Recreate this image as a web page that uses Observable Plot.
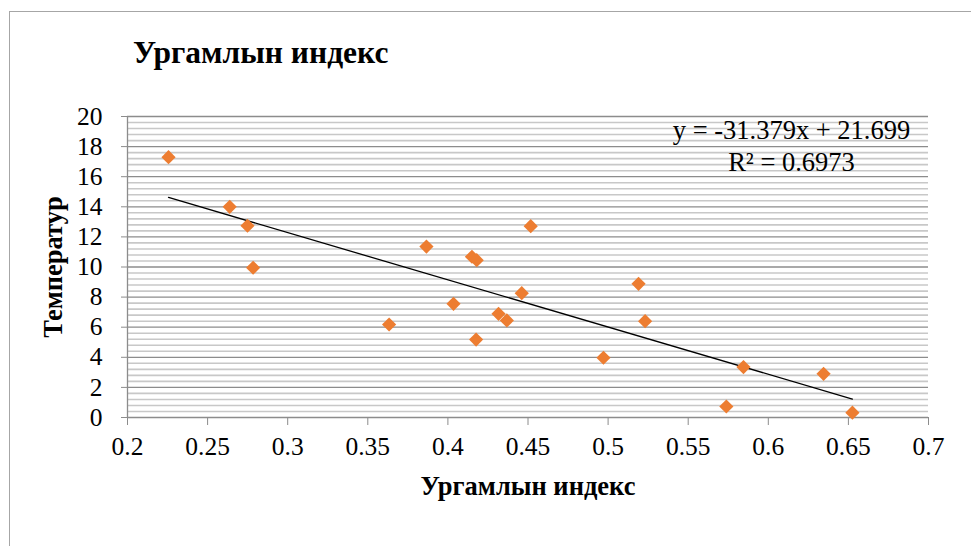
<!DOCTYPE html>
<html>
<head>
<meta charset="utf-8">
<script src="https://cdn.jsdelivr.net/npm/d3@7"></script>
<script src="https://cdn.jsdelivr.net/npm/@observablehq/plot@0.6"></script>
<style>
  html, body { margin: 0; padding: 0; background: #fff; overflow: hidden; }
  #wrap { position: relative; width: 971px; height: 546px; overflow: hidden; font-family: "Liberation Serif", "Times New Roman", serif; }
  #frame { position: absolute; left: 9px; top: 11px; width: 1100px; height: 700px; border: 1.5px solid #a6a6a6; box-sizing: border-box; }
  #title { position: absolute; left: 133px; top: 37px; font-size: 31.5px; line-height: 1; font-weight: bold; color: #000; white-space: nowrap; }
  #chart { position: absolute; left: 0; top: 80px; }
  #chart g[aria-label="x-axis tick"], #chart g[aria-label="y-axis tick"] { stroke: #8c8c8c; }
  #chart g[aria-label="x-axis label"] text, #chart g[aria-label="y-axis label"] text { font-weight: bold; font-size: 26.5px; }
</style>
</head>
<body>
<div id="wrap">
  <div id="frame"></div>
  <div id="title">Ургамлын индекс</div>
  <div id="chart"></div>
</div>
<script>
// Ургамлын индекс (x) vs Температур (y)
const xValues = [0.2256, 0.2638, 0.2749, 0.2784, 0.3633, 0.3866, 0.4035, 0.4150, 0.4180, 0.4176, 0.4316, 0.4368, 0.4461, 0.4517, 0.4971, 0.5190, 0.5231, 0.5738, 0.5845, 0.6345, 0.6525];
const yValues = [17.3, 14.0, 12.74, 9.95, 6.18, 11.36, 7.55, 10.68, 10.45, 5.18, 6.89, 6.45, 8.26, 12.71, 3.97, 8.88, 6.4, 0.73, 3.35, 2.9, 0.32];
const xTicks = [0.2, 0.25, 0.3, 0.35, 0.4, 0.45, 0.5, 0.55, 0.6, 0.65, 0.7];
const yTicks = [0, 2, 4, 6, 8, 10, 12, 14, 16, 18, 20];
const slope = -31.379;
const intercept = 21.699;
const rSquared = 0.6973;
const xLabel = "Ургамлын индекс";
const yLabel = "Температур";

const points = xValues.map((x, i) => ({x, y: yValues[i]}));
const xMin = d3.min(xValues), xMax = d3.max(xValues);
const trend = [xMin, xMax].map(x => ({x, y: slope * x + intercept}));
const minorGrid = d3.range(0, 20.001, 0.4).filter(v => Math.abs(v / 2 - Math.round(v / 2)) > 1e-6);
const eqText = `y = ${slope}x + ${intercept}\nR² = ${rSquared}`;

const plot = Plot.plot({
  width: 971,
  height: 466,
  marginLeft: 127,
  marginRight: 43,
  marginTop: 36,
  marginBottom: 129,
  style: { fontFamily: "Liberation Serif, Times New Roman, serif", fontSize: "25.5px", color: "#000", background: "transparent" },
  x: { domain: [0.2, 0.7] },
  y: { domain: [0, 20] },
  marks: [
    Plot.ruleY(minorGrid, { stroke: "#c8c8c8", strokeWidth: 1.6 }),
    Plot.ruleY(yTicks, { stroke: "#8c8c8c", strokeWidth: 1.3 }),
    Plot.ruleX([0.2], { stroke: "#8c8c8c", strokeWidth: 1.3 }),
    Plot.axisX({ ticks: xTicks, tickSize: 8, tickPadding: 11, tickFormat: d => String(+d.toFixed(2)),
      label: xLabel, labelAnchor: "center", labelArrow: "none", labelOffset: 77 }),
    Plot.axisY({ ticks: yTicks, tickSize: 6, tickPadding: 19, tickFormat: d => String(d),
      label: yLabel, labelAnchor: "center", labelArrow: "none", labelOffset: 84 }),
    Plot.line(trend, { x: "x", y: "y", stroke: "#000", strokeWidth: 1.3 }),
    Plot.dot(points, { x: "x", y: "y", symbol: "diamond2", r: 6.4, fill: "#ED7D31", stroke: "none" }),
    Plot.text([eqText], { frameAnchor: "top-right", dx: -137, dy: 0, text: d => d, textAnchor: "middle", fontSize: 26.5, lineHeight: 1.2, fill: "#000" })
  ]
});
document.getElementById("chart").appendChild(plot);
</script>
</body>
</html>
